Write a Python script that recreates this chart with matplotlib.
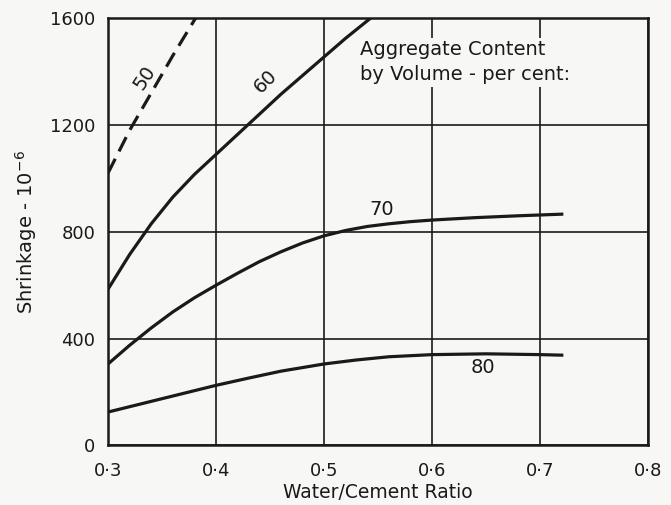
import matplotlib
matplotlib.use("Agg")
import matplotlib.pyplot as plt

# Water/cement ratio vs. drying shrinkage for various aggregate contents
x50 = [0.300, 0.320, 0.340, 0.360, 0.381]
y50 = [1020, 1180, 1320, 1460, 1600]

x60 = [0.30, 0.32, 0.34, 0.36, 0.38, 0.40, 0.42, 0.44, 0.46, 0.48, 0.50, 0.52, 0.543]
y60 = [585, 715, 830, 930, 1015, 1090, 1165, 1240, 1315, 1385, 1455, 1525, 1600]

x70 = [0.30, 0.32, 0.34, 0.36, 0.38, 0.40, 0.42, 0.44, 0.46, 0.48, 0.50,
       0.52, 0.54, 0.56, 0.58, 0.60, 0.64, 0.68, 0.72]
y70 = [305, 375, 440, 500, 553, 600, 645, 688, 725, 758, 785,
       805, 820, 830, 838, 844, 853, 860, 866]

x80 = [0.30, 0.33, 0.36, 0.40, 0.43, 0.46, 0.50, 0.53, 0.56, 0.60, 0.65, 0.70, 0.72]
y80 = [125, 155, 185, 225, 252, 278, 305, 320, 332, 340, 343, 340, 338]

curve_labels = ["50", "60", "70", "80"]
xticks = [0.3, 0.4, 0.5, 0.6, 0.7, 0.8]
xtick_labels = ["0·3", "0·4", "0·5", "0·6", "0·7", "0·8"]
yticks = [0, 400, 800, 1200, 1600]
ytick_labels = ["0", "400", "800", "1200", "1600"]

ink = "#1a1a1a"
paper = "#f7f7f5"
plt.rcParams["font.family"] = ["DejaVu Sans"]

fig = plt.figure(figsize=(6.71, 5.05), dpi=100)
fig.patch.set_facecolor(paper)
ax = fig.add_axes([0.161, 0.118, 0.805, 0.846])
ax.set_facecolor(paper)

ax.set_xlim(0.3, 0.8)
ax.set_ylim(0, 1600)
ax.set_xticks(xticks)
ax.set_xticklabels(xtick_labels)
ax.set_yticks(yticks)
ax.set_yticklabels(ytick_labels)
ax.tick_params(length=0, labelsize=13, colors=ink)
ax.tick_params(axis="x", pad=12)
ax.tick_params(axis="y", pad=9)
for s in ax.spines.values():
    s.set_linewidth(1.8)
    s.set_color(ink)

ax.grid(True, color=ink, linewidth=1.2)
ax.set_axisbelow(True)

line_kw = dict(color=ink, lw=2.3, solid_joinstyle="round")
ax.plot(x50, y50, ls=(0, (5, 2.6)), dash_capstyle="butt", **line_kw)
ax.plot(x60, y60, **line_kw)
ax.plot(x70, y70, **line_kw)
ax.plot(x80, y80, **line_kw)

lab_kw = dict(color=ink, fontsize=14, ha="center", va="center")
ax.text(0.334, 1378, curve_labels[0], rotation=57, **lab_kw)
ax.text(0.446, 1362, curve_labels[1], rotation=45, **lab_kw)
ax.text(0.553, 885, curve_labels[2], **lab_kw)
ax.text(0.647, 290, curve_labels[3], **lab_kw)

ax.text(0.533, 1435, "Aggregate Content\nby Volume - per cent:", color=ink,
        fontsize=14, ha="left", va="center", linespacing=1.4,
        bbox=dict(facecolor=paper, edgecolor="none", pad=2))

ax.set_xlabel("Water/Cement Ratio", fontsize=13.5, color=ink, labelpad=2)
ax.set_ylabel("Shrinkage - 10$^{-6}$", fontsize=14, color=ink, labelpad=8)

fig.savefig("out.png", dpi=100, facecolor=fig.get_facecolor())
